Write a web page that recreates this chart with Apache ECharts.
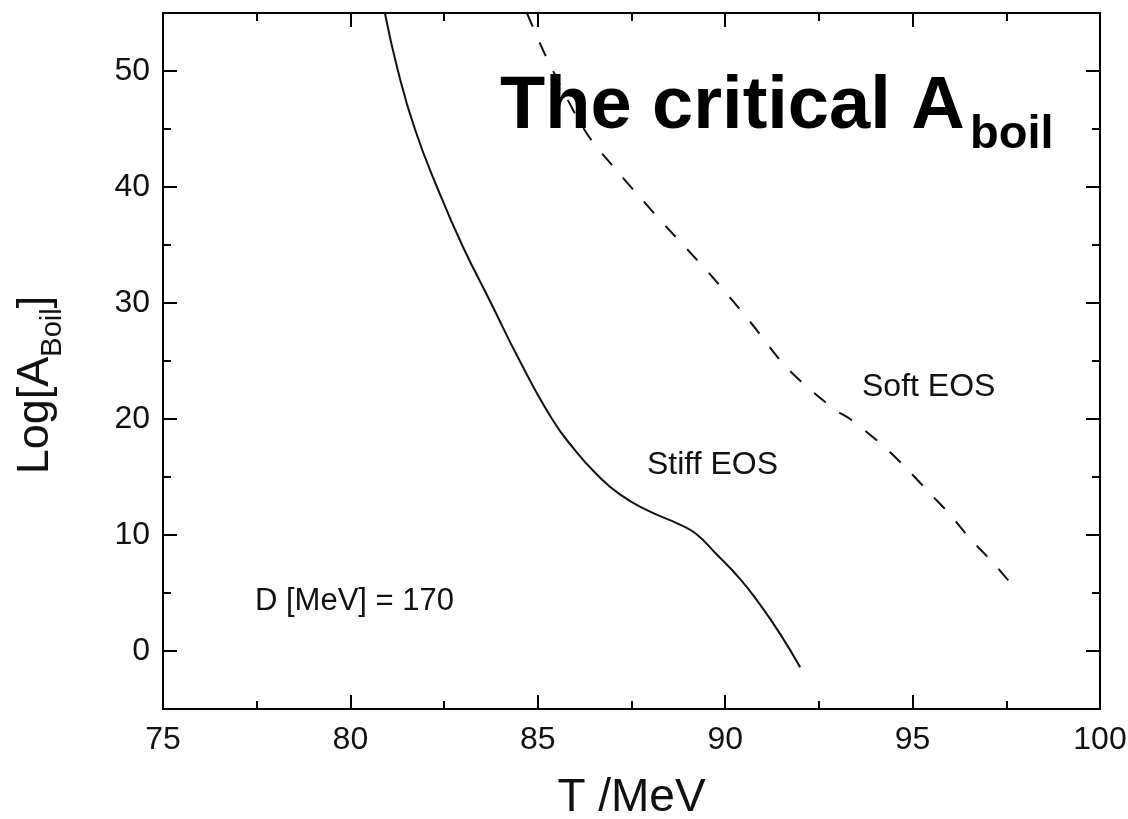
<!DOCTYPE html>
<html>
<head>
<meta charset="utf-8">
<script src="https://cdn.jsdelivr.net/npm/echarts@6/dist/echarts.min.js"></script>
<style>
html,body{margin:0;padding:0;background:#fff;}
#chart{width:1128px;height:819px;}
</style>
</head>
<body>
<div id="chart"></div>
<script>
// Stiff EOS (solid)
const stiffT = [80.92, 81.27, 81.72, 82.31, 82.98, 83.75, 84.52, 85.38, 85.97, 86.55, 87.19, 87.94, 88.79, 89.22, 89.75, 90.40, 90.93, 91.46, 92.00];
const stiffY = [55.0, 50.0, 45.0, 40.0, 35.0, 30.0, 25.0, 20.0, 17.4, 15.3, 13.5, 12.1, 10.9, 10.1, 8.4, 6.2, 4.0, 1.5, -1.4];
// Soft EOS (dashed)
const softT = [84.71, 85.27, 86.29, 87.19, 87.73, 88.45, 89.59, 90.66, 91.65, 92.88, 93.33, 94.21, 94.85, 95.46, 95.99, 96.53, 97.15, 97.73];
const softY = [55.0, 50.9, 44.7, 41.1, 39.1, 36.5, 32.5, 28.4, 24.4, 20.9, 20.0, 17.7, 15.7, 13.6, 11.8, 9.7, 7.6, 5.4];

const xMin = 75, xMax = 100, xStep = 5;
const yMin = -5, yMax = 55;
const yMajorTicks = [0, 10, 20, 30, 40, 50];
const yMinorTicks = [-5, 5, 15, 25, 35, 45, 55];

const FONT = '"Liberation Sans", Arial, sans-serif';
const chart = echarts.init(document.getElementById('chart'), null, {renderer: 'canvas'});

const pairs = (xs, ys) => xs.map((x, i) => [x, ys[i]]);
const black = '#000';

function yAxisDef(position, ticks, len, showLabel, extra) {
  return Object.assign({
    type: 'value', position: position, min: yMin, max: yMax,
    axisLine: {show: true, onZero: false, lineStyle: {color: black, width: 2}},
    axisTick: {show: true, inside: true, length: len, customValues: ticks, lineStyle: {color: black, width: 2}},
    axisLabel: {show: showLabel, customValues: yMajorTicks, margin: 13, color: '#111', fontSize: 32, fontFamily: FONT},
    splitLine: {show: false}
  }, extra || {});
}

function xAxisDef(position, showLabel, extra) {
  return Object.assign({
    type: 'value', position: position, min: xMin, max: xMax, interval: xStep,
    axisLine: {show: true, onZero: false, lineStyle: {color: black, width: 2}},
    axisTick: {show: true, inside: true, length: 14, lineStyle: {color: black, width: 2}},
    minorTick: {show: true, splitNumber: 2, length: 8, lineStyle: {color: black, width: 2}},
    axisLabel: {show: showLabel, margin: 15, color: '#111', fontSize: 32, fontFamily: FONT},
    splitLine: {show: false}
  }, extra || {});
}

const option = {
  backgroundColor: '#fff',
  animation: false,
  grid: {left: 163, right: 28, top: 13, bottom: 110, containLabel: false, outerBoundsMode: 'none'},
  xAxis: [
    xAxisDef('bottom', true, {
      name: 'T /MeV', nameLocation: 'middle', nameGap: 66,
      nameTextStyle: {fontSize: 46, color: '#111', fontFamily: FONT}
    }),
    xAxisDef('top', false)
  ],
  yAxis: [
    yAxisDef('left', yMajorTicks, 14, true, {
      name: '{a|Log[A}{s|Boil}{a|]}', nameLocation: 'middle', nameGap: 96, nameRotate: 90,
      nameTextStyle: {
        color: '#111', fontFamily: FONT, padding: [0, 48, 0, 0],
        rich: {
          a: {fontSize: 45, lineHeight: 62, verticalAlign: 'middle', color: '#111', fontFamily: FONT},
          s: {fontSize: 29, verticalAlign: 'bottom', color: '#111', fontFamily: FONT}
        }
      }
    }),
    yAxisDef('left', yMinorTicks, 8, false),
    yAxisDef('right', yMajorTicks, 14, false),
    yAxisDef('right', yMinorTicks, 8, false)
  ],
  series: [
    {
      name: 'Stiff EOS', type: 'line', xAxisIndex: 0, yAxisIndex: 0,
      data: pairs(stiffT, stiffY), showSymbol: false, smooth: 0.5,
      lineStyle: {color: '#111', width: 2}, clip: true
    },
    {
      name: 'Soft EOS', type: 'line', xAxisIndex: 0, yAxisIndex: 0,
      data: pairs(softT, softY), showSymbol: false, smooth: 0.3,
      lineStyle: {color: '#111', width: 2, type: [15, 17]}, clip: true
    }
  ],
  graphic: [
    {type: 'text', left: 500, top: 71, z: 10,
      style: {text: 'The critical A', font: 'bold 74px ' + FONT, fill: '#000'}},
    {type: 'text', left: 970, top: 112, z: 10,
      style: {text: 'boil', font: 'bold 47px ' + FONT, fill: '#000'}},
    {type: 'text', left: 647, top: 449,
      style: {text: 'Stiff EOS', font: '32px ' + FONT, fill: '#111'}},
    {type: 'text', left: 862, top: 371,
      style: {text: 'Soft EOS', font: '32px ' + FONT, fill: '#111'}},
    {type: 'text', left: 255, top: 586,
      style: {text: 'D [MeV] = 170', font: '31px ' + FONT, fill: '#111'}}
  ]
};
chart.setOption(option);
</script>
</body>
</html>
